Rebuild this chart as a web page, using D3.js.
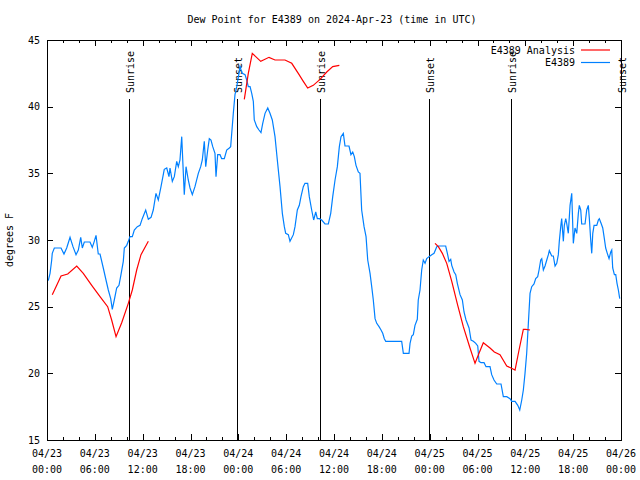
<!DOCTYPE html>
<html><head><meta charset="utf-8">
<script src="https://cdn.jsdelivr.net/npm/d3@7"></script>
<style>body{margin:0;background:#fff}svg{display:block}text{font-family:"DejaVu Sans Mono","Liberation Mono",monospace;font-size:10px;fill:#000}</style>
</head><body>
<script>
// hours since 2024-04-23 00:00 UTC
const obsHours = [0.16,0.38,0.59,0.66,0.92,1.76,2.13,2.47,2.89,3.26,3.64,3.93,4.23,4.43,4.68,5.39,5.68,5.93,6.15,6.43,6.65,7.06,7.40,7.69,7.99,8.19,8.44,8.74,9.03,9.28,9.57,9.70,10.00,10.20,10.41,10.70,10.95,11.33,11.67,11.95,12.38,12.71,13.05,13.33,13.67,13.96,14.30,14.71,15.02,15.30,15.43,15.72,15.97,16.27,16.47,16.68,16.90,17.10,17.22,17.44,17.72,17.94,18.23,18.56,18.98,19.28,19.48,19.73,19.91,20.16,20.36,20.57,20.79,21.07,21.20,21.41,21.70,21.91,22.24,22.54,22.87,23.04,23.17,23.37,23.58,23.80,24.08,24.21,24.33,24.50,24.84,25.05,25.25,25.47,25.68,25.88,26.00,26.31,26.59,26.84,27.06,27.35,27.69,27.97,28.26,28.60,28.89,29.23,29.52,29.77,29.94,30.27,30.48,30.90,31.11,31.40,31.65,31.86,32.15,32.36,32.70,32.90,33.20,33.45,33.71,33.91,34.16,34.46,34.87,35.29,35.59,35.84,36.13,36.42,36.67,36.88,37.17,37.38,37.88,38.13,38.35,38.55,38.76,39.05,39.26,39.47,39.77,40.02,40.23,40.52,40.73,40.93,41.15,41.36,41.65,41.90,42.11,42.31,42.49,44.49,44.70,45.41,45.54,45.75,45.95,46.16,46.45,46.57,46.79,47.00,47.20,47.42,47.63,47.92,48.26,48.55,48.89,49.09,50.01,50.22,50.43,50.64,50.77,51.06,51.27,51.47,51.81,52.10,52.31,52.56,52.94,53.19,53.48,53.78,54.03,54.19,54.44,54.82,55.07,55.57,55.78,56.07,56.41,56.95,57.24,57.67,58.08,58.29,58.71,59.05,59.30,59.55,59.75,59.96,60.17,60.38,60.59,60.80,61.09,61.30,61.55,61.72,61.93,62.06,62.26,62.47,62.69,62.89,63.01,63.31,63.51,63.73,63.94,64.14,64.26,64.44,64.56,64.77,64.89,65.07,65.19,65.39,65.61,65.82,66.02,66.23,66.45,66.65,66.77,66.95,67.07,67.49,67.70,67.90,68.03,68.20,68.33,68.46,68.62,68.96,69.16,69.28,69.50,69.71,69.91,70.08,70.28,70.50,70.71,70.84,70.96,71.17,71.34,71.50,71.67,71.84];
const obsValues = [26.95,27.5,28.5,29.0,29.4,29.4,28.95,29.4,30.2,29.5,28.9,29.25,30.2,29.4,29.85,29.85,29.45,29.9,30.35,28.95,28.95,27.9,27.0,26.25,25.6,24.8,25.5,26.4,26.6,27.4,28.4,29.4,29.6,29.9,30.25,30.25,30.75,31.0,31.1,31.6,32.25,31.55,31.7,32.25,33.5,33.0,34.0,35.3,35.4,34.75,35.4,34.4,34.75,35.9,35.5,36.0,37.75,35.0,33.4,35.5,34.5,33.9,33.4,34.0,35.0,35.5,36.0,37.4,35.5,36.75,37.6,37.5,37.0,36.5,34.75,36.4,36.4,36.1,36.1,36.75,36.9,37.0,38.0,39.5,40.9,41.5,42.5,43.1,42.75,42.5,42.4,42.0,41.5,41.5,41.0,40.4,39.0,38.5,38.25,38.05,38.75,39.5,39.9,39.5,39.0,37.75,36.0,34.0,32.0,31.0,30.5,30.4,29.9,30.4,31.0,32.25,32.6,33.25,34.0,34.25,34.25,33.25,32.25,31.5,32.1,31.6,31.6,31.5,31.2,31.2,32.0,33.25,34.5,35.5,37.0,37.75,38.0,37.05,37.05,36.4,36.6,36.25,35.6,35.1,35.0,32.25,31.0,30.25,28.5,27.5,26.5,25.5,24.1,23.75,23.5,23.25,23.0,22.6,22.4,22.4,21.5,21.5,22.25,22.8,22.9,23.6,24.05,25.5,26.25,27.75,28.5,28.25,28.6,28.75,28.9,29.0,29.5,29.55,29.55,29.0,28.4,28.55,28.1,27.6,27.4,26.75,25.9,25.5,24.6,24.0,23.4,22.5,22.4,22.25,22.05,20.9,20.8,20.8,20.5,20.5,19.9,19.5,19.2,19.2,18.25,18.25,18.1,17.9,17.9,17.6,17.25,18.0,18.75,20.0,21.5,23.75,26.0,26.5,26.7,27.1,27.25,27.75,28.5,28.6,27.75,28.05,28.5,28.9,29.2,28.8,28.8,28.05,28.25,28.9,29.9,31.0,31.6,29.9,31.1,31.6,31.25,30.5,32.6,33.5,29.75,30.9,30.5,32.0,32.6,32.25,31.2,31.2,32.25,32.6,31.6,30.0,29.0,30.5,31.1,31.1,31.5,31.6,31.25,30.9,30.1,29.4,29.0,28.6,29.1,29.25,27.9,27.4,27.4,26.75,26.25,25.6];

// analysis series; null marks a gap
const anaHours = [0.66,1.22,1.76,2.60,3.73,4.55,5.61,6.65,7.61,8.11,8.66,9.37,10.20,10.70,11.25,11.79,12.71,null,24.75,25.25,25.75,26.81,27.85,28.60,29.85,30.70,31.52,32.15,32.70,33.40,34.25,35.09,35.84,36.67,null,48.67,49.09,49.59,50.14,50.77,51.52,52.22,53.06,53.69,54.19,54.73,55.57,56.11,56.82,57.67,58.21,58.71,59.21,59.75,60.05,60.59];
const anaValues = [25.9,26.6,27.3,27.45,28.05,27.5,26.6,25.75,25.0,24.0,22.75,23.8,25.25,26.25,27.75,28.9,29.9,null,40.55,42.5,44.0,43.4,43.7,43.5,43.5,43.25,42.5,41.9,41.4,41.6,42.05,42.6,43.0,43.1,null,29.75,29.5,29.0,28.25,26.9,25.1,23.5,21.9,20.75,21.5,22.3,21.9,21.6,21.4,20.55,20.4,20.25,21.75,23.3,23.3,23.25];

const sunHours = [10.29,23.84,34.25,47.9,58.2,72.0];
const sunLabels = ["Sunrise","Sunset","Sunrise","Sunset","Sunrise","Sunset"];

const xTickHours = [0,6,12,18,24,30,36,42,48,54,60,66,72];
const xTickDates = ["04/23","04/23","04/23","04/23","04/24","04/24","04/24","04/24","04/25","04/25","04/25","04/25","04/26"];
const xTickTimes = ["00:00","06:00","12:00","18:00","00:00","06:00","12:00","18:00","00:00","06:00","12:00","18:00","00:00"];
const yTicks = [15,20,25,30,35,40,45];
const seriesNames = ["E4389 Analysis","E4389"];
const seriesColors = ["#ff0000","#0080ff"];

const W=640,H=480, L=47,R=621,T=40,B=440;
const svg=d3.select("body").append("svg").attr("width",W).attr("height",H);
const x=d3.scaleLinear().domain([0,72]).range([L,R]);
const y=d3.scaleLinear().domain([15,45]).range([B,T]);

svg.append("text").attr("x",(L+R)/2-2).attr("y",23).attr("text-anchor","middle").text("Dew Point for E4389 on 2024-Apr-23 (time in UTC)");

const minor=d3.range(0,73,2).filter(h=>h%6!==0);
function ax(gen,vals,size,tr){
  const g=svg.append("g").attr("transform",tr).attr("shape-rendering","crispEdges")
    .call(gen.tickValues(vals).tickSize(size).tickFormat(""));
  g.select(".domain").remove();
  g.selectAll("line").attr("stroke","#000");
  return g;
}
ax(d3.axisBottom(x),xTickHours,-6,`translate(0,${B})`);
ax(d3.axisBottom(x),minor,-3,`translate(0,${B})`);
ax(d3.axisTop(x),xTickHours,-6,`translate(0,${T})`);
ax(d3.axisTop(x),minor,-3,`translate(0,${T})`);
ax(d3.axisRight(y),yTicks,-6,`translate(${R},0)`);
const gl=svg.append("g").attr("transform",`translate(${L},0)`).attr("shape-rendering","crispEdges")
  .call(d3.axisLeft(y).tickValues(yTicks).tickSize(-6).tickPadding(7));
gl.select(".domain").remove();
gl.selectAll("line").attr("stroke","#000");
gl.selectAll("text").style("font-family",'"DejaVu Sans Mono",monospace').style("font-size","10px").attr("fill","#000");

xTickHours.forEach((h,i)=>{
  svg.append("text").attr("x",x(h)).attr("y",457).attr("text-anchor","middle").text(xTickDates[i]);
  svg.append("text").attr("x",x(h)).attr("y",473).attr("text-anchor","middle").text(xTickTimes[i]);
});

svg.append("text").attr("transform",`translate(13,${(T+B)/2}) rotate(-90)`).attr("text-anchor","middle").text("degrees F");

// sun lines
sunHours.forEach((h,i)=>{
  const xx=Math.round(x(h))+0.5;
  svg.append("line").attr("x1",xx).attr("x2",xx).attr("y1",99).attr("y2",B).attr("stroke","#000").attr("stroke-width",1);
  svg.append("text").attr("transform",`translate(${xx+4},93) rotate(-90)`).attr("text-anchor","start").text(sunLabels[i]);
});

// series
const obs=obsHours.map((h,i)=>[h,obsValues[i]]);
const ana=anaHours.map((h,i)=>[h,anaValues[i]]);
const line=d3.line().defined(d=>d[0]!==null&&d[1]!==null).x(d=>x(d[0])).y(d=>y(d[1]));
svg.append("path").datum(obs).attr("d",line).attr("fill","none").attr("stroke",seriesColors[1]).attr("stroke-width",1.2);
svg.append("path").datum(ana).attr("d",line).attr("fill","none").attr("stroke",seriesColors[0]).attr("stroke-width",1.2);

// legend
seriesNames.forEach((n,i)=>{
  const yy=50+i*12.5;
  svg.append("text").attr("x",575).attr("y",yy+3.5).attr("text-anchor","end").text(n);
  svg.append("line").attr("x1",581).attr("x2",610).attr("y1",yy).attr("y2",yy).attr("stroke",seriesColors[i]).attr("stroke-width",1.2);
});

// frame
svg.append("rect").attr("x",L+0.5).attr("y",T+0.5).attr("width",R-L).attr("height",B-T).attr("fill","none").attr("stroke","#000").attr("shape-rendering","crispEdges");
</script>
</body></html>
